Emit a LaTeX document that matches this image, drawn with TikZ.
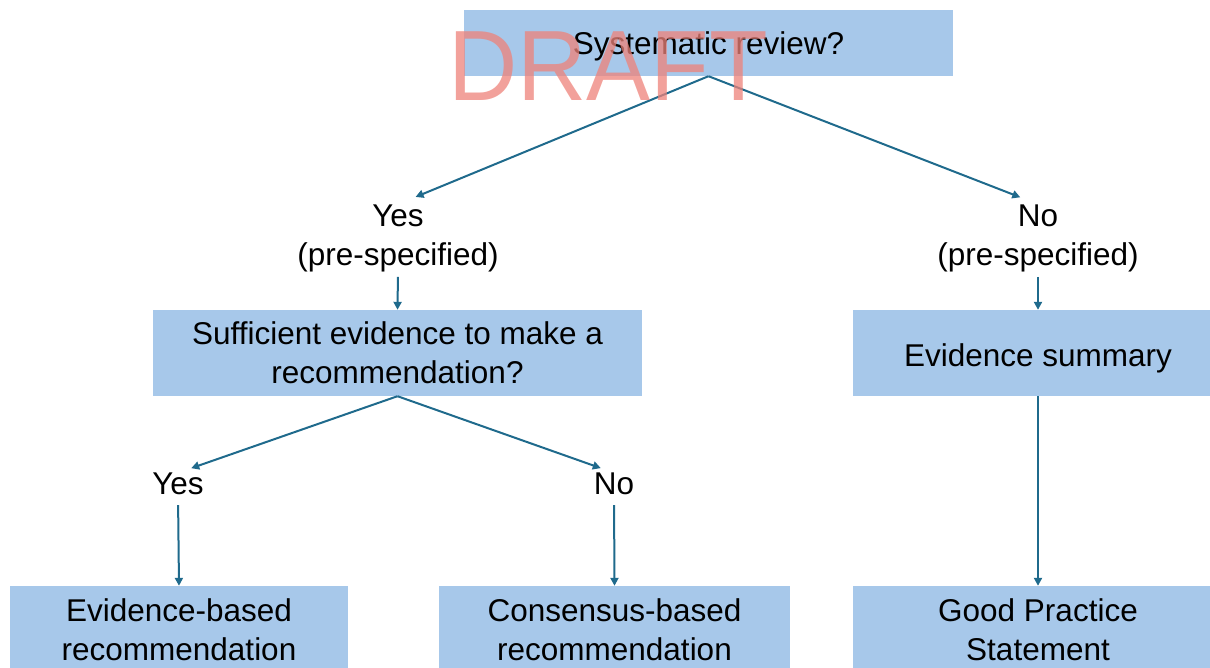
\documentclass[tikz,border=0pt]{standalone}
\usepackage{fontspec}
\setmainfont{Liberation Sans}
\usetikzlibrary{arrows.meta}
\definecolor{boxblue}{HTML}{A7C8EA}
\definecolor{linkteal}{HTML}{1F6A8C}
\definecolor{stamp}{HTML}{EE8279}
\newcommand{\onelinetext}[2]{\raisebox{#1}[0pt][0pt]{#2}}
\begin{document}
\begin{tikzpicture}[x=1pt,y=-1pt,
  box/.style={fill=boxblue, draw=none, inner sep=0pt, align=center,
    font=\fontsize{31.5}{39}\selectfont},
  lbl/.style={inner sep=0pt, align=center, font=\fontsize{31.5}{39}\selectfont},
  link/.style={draw=linkteal, line width=2pt,
    -{Triangle[length=8pt,width=8pt]}}]
\clip (0,0) rectangle (1210,668);

% decision boxes
\node[box, minimum width=489, minimum height=66] (sr) at (708.5,43)
  {\onelinetext{-12pt}{Systematic review?}};
\node[box, minimum width=489, minimum height=86] (suff) at (397.5,353)
  {Sufficient evidence to make a\\recommendation?};
\node[box, minimum width=370, minimum height=86] (summ) at (1038,353)
  {\onelinetext{-13pt}{Evidence summary}};

% outcome boxes
\node[box, minimum width=338, minimum height=88] (ebr) at (179,630)
  {Evidence-based\\recommendation};
\node[box, minimum width=351, minimum height=88] (cbr) at (614.5,630)
  {Consensus-based\\recommendation};
\node[box, minimum width=370, minimum height=88] (gps) at (1038,630)
  {Good Practice\\Statement};

% branch labels
\node[lbl] (yes1) at (398,238) {Yes\\(pre-specified)};
\node[lbl] (no1) at (1038,238) {No\\(pre-specified)};
\node[lbl] (yes2) at (178,484) {Yes};
\node[lbl] (no2) at (614,484) {No};

% connectors
\draw[link, shorten >=19pt] (sr.south) -- (yes1.north);
\draw[link, shorten >=19pt] (sr.south) -- (no1.north);
\draw[link, shorten <=5pt] (yes1.south) -- (suff.north);
\draw[link, shorten <=5pt] (no1.south) -- (summ.north);
\draw[link, shorten >=14pt] (suff.south) -- (yes2.north);
\draw[link, shorten >=14pt] (suff.south) -- (no2.north);
\draw[link, shorten <=10pt] (yes2.south) -- (ebr.north);
\draw[link, shorten <=10pt] (no2.south) -- (cbr.north);
\draw[link] (summ.south) -- (gps.north);

% watermark
\node[text=stamp, opacity=0.75, inner sep=0pt, font=\fontsize{100}{100}\selectfont,
  xscale=0.96] (draft) at (608,66) {DRAFT};
\end{tikzpicture}
\end{document}
